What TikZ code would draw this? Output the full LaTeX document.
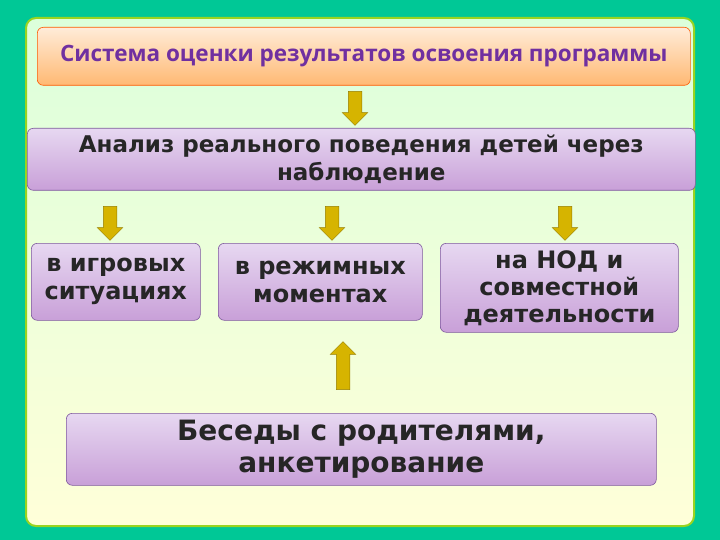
\documentclass[tikz,border=0pt]{standalone}
\usepackage{fontspec}
\setmainfont{DejaVu Sans}
\newfontfamily\topfont{Open Sans}
\usetikzlibrary{shapes.arrows}
\definecolor{bgteal}{HTML}{00C896}
\definecolor{lav}{HTML}{C9A8E0}
\definecolor{lavd}{HTML}{9E6FC4}
\definecolor{gold}{HTML}{D6B400}
\definecolor{txtp}{HTML}{7030A0}
\tikzset{
 box/.style={draw=lavd!80!black, line width=0.6pt, rounded corners=6pt, top color=lav!45, bottom color=lav!95!purple, font=\bfseries\fontsize{23}{28}\selectfont, align=center, inner sep=0pt, text=black!85},
 barrow/.style={single arrow, draw=gold!70!black, fill=gold, line width=0.5pt, minimum height=34pt, inner sep=6.5pt, single arrow head extend=6pt, single arrow tip angle=90},
}
\begin{document}
\begin{tikzpicture}[x=1pt,y=-1pt]
\fill[bgteal] (0,0) rectangle (720,540);
\useasboundingbox (0,0) rectangle (720,540);
\node[draw=yellow!60!green, line width=2pt, rounded corners=10pt, top color=green!14!white, bottom color=yellow!15!white, minimum width=668pt, minimum height=508pt, anchor=north west] (panel) at (25,17) {};
\node[draw=orange!70!red, line width=0.6pt, rounded corners=6pt, top color=orange!15, bottom color=orange!55, minimum width=653pt, minimum height=58pt, anchor=north west, text=txtp, font=\topfont\bfseries\fontsize{22.5}{26}\selectfont] (top) at (37,27) {Система оценки результатов освоения программы};
\node[box, minimum width=668pt, minimum height=62pt, anchor=north west] (anal) at (27,128) {Анализ реального поведения детей через\\наблюдение};
\node[box, minimum width=169pt, minimum height=77pt, anchor=north west, font=\bfseries\fontsize{24}{28}\selectfont] (b1) at (31,243) {в игровых\\ситуациях};
\node[box, minimum width=204pt, minimum height=77pt, anchor=north west, font=\bfseries\fontsize{24}{28}\selectfont] (b2) at (218,243) {в режимных\\моментах};
\node[box, minimum width=238pt, minimum height=89pt, anchor=north west, font=\bfseries\fontsize{24}{27}\selectfont] (b3) at (440,243) {на НОД и\\совместной\\деятельности};
\node[box, minimum width=590pt, minimum height=72pt, anchor=north west, font=\bfseries\fontsize{28}{32}\selectfont] (bes) at (66,413) {Беседы с родителями,\\анкетирование};
\node[barrow, rotate=-90] (a0) at (355,105) {};
\node[barrow, rotate=-90] (a1) at (110,220) {};
\node[barrow, rotate=-90] (a2) at (332,220) {};
\node[barrow, rotate=-90] (a3) at (565,220) {};
\node[barrow, rotate=90, minimum height=48pt] (a4) at (343,369) {};
\end{tikzpicture}
\end{document}
